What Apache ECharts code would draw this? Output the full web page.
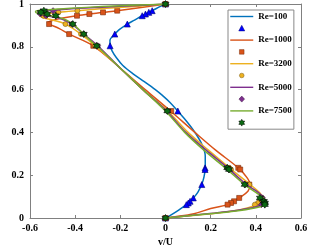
<!DOCTYPE html>
<html>
<head>
<meta charset="utf-8">
<script src="https://cdn.jsdelivr.net/npm/echarts@6/dist/echarts.min.js"></script>
<style>html,body{margin:0;padding:0;background:#fff;}#c{width:309px;height:245px;}</style>
</head>
<body>
<div id="c"></div>
<script>
// Reference (marker) data: positions x/H and v/U values
var markerY = [1.0000, 0.9688, 0.9609, 0.9531, 0.9453, 0.9063, 0.8594, 0.8047, 0.5000, 0.2344, 0.2266, 0.1563, 0.0938, 0.0781, 0.0703, 0.0625, 0.0000];
var mk100  = [0, -0.05906, -0.07391, -0.08864, -0.10313, -0.16914, -0.22445, -0.24533, 0.05454, 0.17527, 0.17507, 0.16077, 0.12317, 0.10890, 0.10091, 0.09233, 0];
var mk1000 = [0, -0.21388, -0.27669, -0.33714, -0.39188, -0.51550, -0.42665, -0.31966, 0.02526, 0.32235, 0.33075, 0.37095, 0.32627, 0.30353, 0.29012, 0.27485, 0];
var mk3200 = [0, -0.39017, -0.47425, -0.52357, -0.54053, -0.44307, -0.37401, -0.31184, 0.00999, 0.28188, 0.29030, 0.37119, 0.42768, 0.41906, 0.40917, 0.39560, 0];
var mk5000 = [0, -0.49774, -0.55069, -0.55408, -0.52876, -0.41442, -0.36214, -0.30018, 0.00945, 0.27280, 0.28066, 0.35368, 0.42951, 0.43648, 0.43329, 0.42447, 0];
var mk7500 = [0, -0.53858, -0.55216, -0.52347, -0.48590, -0.41050, -0.36213, -0.30448, 0.00824, 0.27348, 0.28117, 0.35060, 0.41824, 0.43564, 0.44030, 0.43979, 0];

// Simulation curves
var ln100Y = [1.0, 0.99, 0.9688, 0.9453, 0.925, 0.9063, 0.88, 0.8594, 0.83, 0.8047, 0.78, 0.75, 0.714, 0.675, 0.636, 0.6, 0.574, 0.54, 0.5, 0.45, 0.396, 0.34, 0.29, 0.2344, 0.19, 0.1563, 0.12, 0.0938, 0.0625, 0.035, 0.015, 0];
var ln100V = [0, -0.02, -0.059, -0.103, -0.137, -0.169, -0.205, -0.224, -0.246, -0.245, -0.236, -0.218, -0.19, -0.145, -0.092, -0.045, -0.015, 0.02, 0.054, 0.095, 0.133, 0.163, 0.176, 0.176, 0.17, 0.16, 0.143, 0.123, 0.092, 0.055, 0.025, 0];

var ln1000Y = [1.0, 0.985, 0.9688, 0.9609, 0.9531, 0.9453, 0.935, 0.922, 0.912, 0.9063, 0.885, 0.8594, 0.8047, 0.7, 0.6, 0.5, 0.4, 0.317, 0.2344, 0.19, 0.1563, 0.125, 0.0938, 0.0703, 0.0625, 0.044, 0.02, 0.005, 0];
var ln1000V = [0, -0.1, -0.214, -0.277, -0.337, -0.392, -0.455, -0.505, -0.522, -0.515, -0.47, -0.427, -0.32, -0.2, -0.09, 0.022, 0.13, 0.222, 0.322, 0.36, 0.375, 0.365, 0.326, 0.29, 0.275, 0.2, 0.126, 0.037, 0];

var ln3200Y = [1.0, 0.99, 0.98, 0.9688, 0.9609, 0.9531, 0.947, 0.937, 0.925, 0.9063, 0.8594, 0.8047, 0.7, 0.6, 0.5, 0.4, 0.317, 0.2344, 0.1563, 0.12, 0.095, 0.075, 0.06, 0.04, 0.025, 0.012, 0];
var ln3200V = [0, -0.12, -0.26, -0.39, -0.474, -0.53, -0.558, -0.545, -0.5, -0.443, -0.374, -0.312, -0.2, -0.1, 0.01, 0.1, 0.19, 0.283, 0.375, 0.415, 0.432, 0.425, 0.4, 0.335, 0.24, 0.12, 0];

var ln5000Y = [1.0, 0.993, 0.985, 0.976, 0.968, 0.961, 0.953, 0.945, 0.93, 0.9063, 0.8594, 0.8047, 0.7, 0.6, 0.5, 0.4, 0.317, 0.2344, 0.1563, 0.12, 0.095, 0.075, 0.055, 0.04, 0.025, 0.012, 0];
var ln5000V = [0, -0.12, -0.28, -0.44, -0.535, -0.568, -0.555, -0.525, -0.46, -0.415, -0.362, -0.3, -0.2, -0.1, 0.005, 0.09, 0.18, 0.275, 0.358, 0.41, 0.435, 0.44, 0.41, 0.34, 0.23, 0.11, 0];

var ln7500Y = [1.0, 0.995, 0.988, 0.98, 0.973, 0.967, 0.961, 0.953, 0.945, 0.93, 0.9063, 0.8594, 0.83, 0.8047, 0.7, 0.6, 0.5, 0.4, 0.317, 0.2344, 0.1563, 0.12, 0.1, 0.08, 0.065, 0.05, 0.035, 0.022, 0.01, 0];
var ln7500V = [0, -0.12, -0.28, -0.42, -0.52, -0.575, -0.575, -0.55, -0.505, -0.45, -0.41, -0.362, -0.333, -0.305, -0.2, -0.1, 0.0, 0.085, 0.17, 0.265, 0.35, 0.4, 0.425, 0.445, 0.443, 0.41, 0.33, 0.22, 0.1, 0];

var seriesNames = ['Re=100', 'Re=1000', 'Re=3200', 'Re=5000', 'Re=7500'];
var lineColors = ['#0072BD', '#D95319', '#EDB120', '#7E2F8E', '#77AC30'];
var markerFill = ['#0000ff', '#d95319', '#edb120', '#7e2f8e', '#0b6a12'];
var markerEdge = ['#00007a', '#7a2e0c', '#7a5a10', '#3e1447', '#000000'];

var xTicks = [-0.6, -0.4, -0.2, 0, 0.2, 0.4, 0.6];
var yTicks = [0, 0.2, 0.4, 0.6, 0.8, 1];

var hexagram = 'path://M0,-10 L2.9,-5 L8.66,-5 L5.8,0 L8.66,5 L2.9,5 L0,10 L-2.9,5 L-8.66,5 L-5.8,0 L-8.66,-5 L-2.9,-5 Z';
var symbols = ['triangle', 'rect', 'circle', 'diamond', hexagram];
var symSizes = [6, 5, 5, 6, 7];

// legend icons: bounding box 23x8 (via move-to corners), small shape in the middle
var box = 'path://M0,0 M23,8 ';
var legendLineIcon = box + 'M0,3.3 L23,3.3 L23,4.7 L0,4.7 Z';
var legendMarkIcons = [
  box + 'M11.5,1 L14.5,6.6 L8.5,6.6 Z',
  box + 'M9.2,1.7 L13.8,1.7 L13.8,6.3 L9.2,6.3 Z',
  box + 'M9.2,4 A2.3,2.3 0 1 1 13.8,4 A2.3,2.3 0 1 1 9.2,4 Z',
  box + 'M11.5,1 L14.3,4 L11.5,7 L8.7,4 Z',
  box + 'M11.5,0.6 L12.5,2.3 L14.4,2.3 L13.5,4 L14.4,5.7 L12.5,5.7 L11.5,7.4 L10.5,5.7 L8.6,5.7 L9.5,4 L8.6,2.3 L10.5,2.3 Z'
];

var lineYs = [ln100Y, ln1000Y, ln3200Y, ln5000Y, ln7500Y];
var lineVs = [ln100V, ln1000V, ln3200V, ln5000V, ln7500V];
var markVs = [mk100, mk1000, mk3200, mk5000, mk7500];

function pairs(vs, ys) { return vs.map(function (v, i) { return [v, ys[i]]; }); }

var series = [];
var legendData = [];
for (var i = 0; i < 5; i++) {
  var blank = ' '.repeat(i + 1);
  series.push({
    name: seriesNames[i], type: 'line', data: pairs(lineVs[i], lineYs[i]),
    smooth: 0.35, symbol: 'none', lineStyle: { color: lineColors[i], width: 1.5 },
    itemStyle: { color: lineColors[i] }, z: 2 + i * 2
  });
  series.push({
    name: blank, type: 'scatter', data: pairs(markVs[i], markerY),
    symbol: symbols[i], symbolSize: symSizes[i],
    itemStyle: { color: markerFill[i], borderColor: markerEdge[i], borderWidth: 0.6, opacity: 1 },
    z: 3 + i * 2
  });
  legendData.push({ name: seriesNames[i], icon: legendLineIcon, itemStyle: { color: lineColors[i], borderWidth: 0 } });
  legendData.push({ name: blank, icon: legendMarkIcons[i], itemStyle: { color: markerFill[i], borderColor: markerEdge[i], borderWidth: 0.5 } });
}

var fontFam = 'Liberation Serif';
var axisCol = '#808080';
var labelStyle = { color: '#000', fontFamily: fontFam, fontWeight: 'bold', fontSize: 10 };

var option = {
  animation: false,
  backgroundColor: '#fff',
  grid: { left: 30, right: 8, top: 4, bottom: 27, containLabel: false, outerBoundsMode: 'none' },
  xAxis: [{
    type: 'value', min: xTicks[0], max: xTicks[xTicks.length - 1], interval: 0.2, position: 'bottom',
    axisLine: { onZero: false, lineStyle: { color: axisCol, width: 1 } },
    axisTick: { inside: true, length: 3, lineStyle: { color: axisCol } },
    axisLabel: Object.assign({ margin: 5 }, labelStyle),
    splitLine: { show: false },
    name: 'v/U', nameLocation: 'middle', nameGap: 14, nameTextStyle: labelStyle
  }, {
    type: 'value', min: xTicks[0], max: xTicks[xTicks.length - 1], interval: 0.2, position: 'top',
    axisLine: { onZero: false, lineStyle: { color: axisCol, width: 1 } },
    axisTick: { inside: true, length: 3, lineStyle: { color: axisCol } },
    axisLabel: { show: false }, splitLine: { show: false }
  }],
  yAxis: [{
    type: 'value', min: yTicks[0], max: yTicks[yTicks.length - 1], interval: 0.2, position: 'left',
    axisLine: { onZero: false, show: true, lineStyle: { color: axisCol, width: 1 } },
    axisTick: { show: true, inside: true, length: 3, lineStyle: { color: axisCol } },
    axisLabel: Object.assign({ margin: 6 }, labelStyle),
    splitLine: { show: false },
    name: 'x/H', nameLocation: 'middle', nameGap: 27, nameRotate: 90, nameTextStyle: labelStyle
  }, {
    type: 'value', min: yTicks[0], max: yTicks[yTicks.length - 1], interval: 0.2, position: 'right',
    axisLine: { onZero: false, show: true, lineStyle: { color: axisCol, width: 1 } },
    axisTick: { show: true, inside: true, length: 3, lineStyle: { color: axisCol } },
    axisLabel: { show: false }, splitLine: { show: false }
  }],
  legend: {
    orient: 'vertical', left: 228, top: 10, padding: [2, 2, 2, 2],
    itemWidth: 23, itemHeight: 8, itemGap: 2.8, symbolKeepAspect: true,
    backgroundColor: '#fff', borderColor: '#888', borderWidth: 1,
    data: legendData,
    textStyle: { color: '#000', fontFamily: fontFam, fontWeight: 'bold', fontSize: 9, lineHeight: 8 }
  },
  series: series
};

var chart = echarts.init(document.getElementById('c'), null, { renderer: 'canvas' });
chart.setOption(option);
</script>
</body>
</html>
